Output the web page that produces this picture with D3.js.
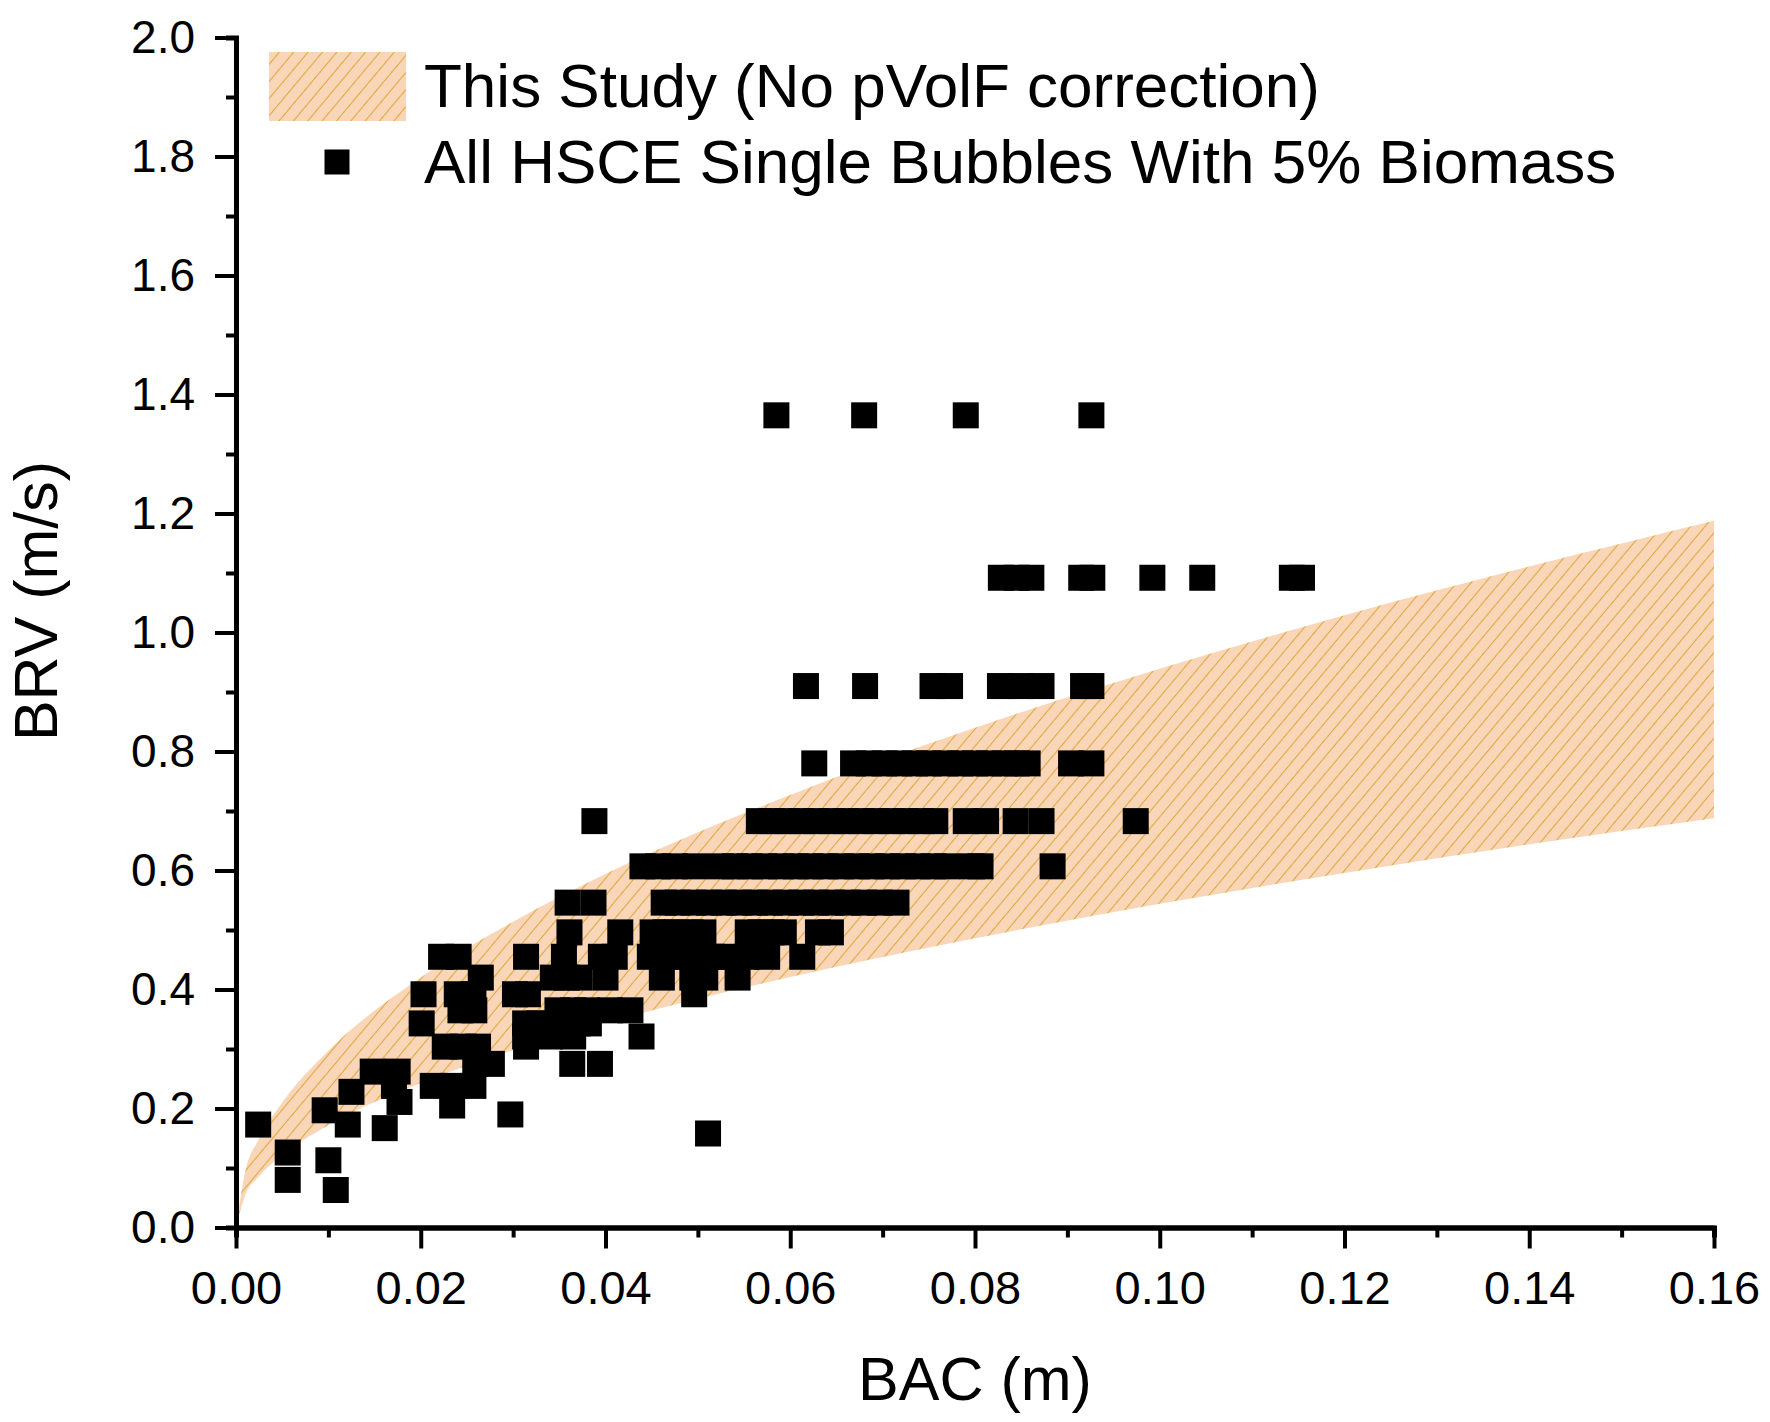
<!DOCTYPE html>
<html>
<head>
<meta charset="utf-8">
<script src="https://cdn.jsdelivr.net/npm/d3@7"></script>
<style>
  body { margin: 0; background: #fff; }
  text { font-family: "Liberation Sans", Arial, sans-serif; fill: #000; }
</style>
</head>
<body>
<div class="canvas"></div>
<script>
// band of this study
const bandBac   = [0, 0.001, 0.0025, 0.005, 0.01, 0.02, 0.03, 0.04, 0.06, 0.08, 0.10, 0.12, 0.14, 0.16];
const bandUpper = [0, 0.094, 0.149, 0.210, 0.297, 0.420, 0.514, 0.594, 0.727, 0.840, 0.939, 1.029, 1.111, 1.188];
const bandLower = [0, 0.054, 0.086, 0.122, 0.172, 0.243, 0.298, 0.344, 0.421, 0.486, 0.544, 0.596, 0.644, 0.688];

// measured bubbles: BRV levels and the BAC values found on each level
const brvLevels = [1.365, 1.092, 0.910, 0.780, 0.683, 0.607, 0.546, 0.496, 0.455, 0.420, 0.392, 0.365,
  0.343, 0.321, 0.304, 0.275, 0.262, 0.238, 0.228, 0.211, 0.205, 0.197, 0.190, 0.173, 0.167, 0.158,
  0.126, 0.113, 0.080, 0.063];
const bacAtLevel = [
  [0.0585, 0.0680, 0.0790, 0.0926],
  [0.0828, 0.0845, 0.0861, 0.0915, 0.0927, 0.0992, 0.1046, 0.1143, 0.1154],
  [0.0617, 0.0681, 0.0754, 0.0773, 0.0827, 0.0849, 0.0872, 0.0917, 0.0926],
  [0.0626, 0.0668, 0.0685, 0.0702, 0.0718, 0.0735, 0.0750, 0.0768, 0.0784, 0.0800, 0.0815, 0.0832, 0.0845, 0.0857, 0.0904, 0.0926],
  [0.0388, 0.0566, 0.0580, 0.0596, 0.0612, 0.0628, 0.0645, 0.0660, 0.0677, 0.0693, 0.0710, 0.0725, 0.0742, 0.0757, 0.0790, 0.0812, 0.0844, 0.0872, 0.0974],
  [0.0440, 0.0457, 0.0475, 0.0497, 0.0525, 0.0540, 0.0556, 0.0572, 0.0590, 0.0606, 0.0622, 0.0638, 0.0655, 0.0672, 0.0688, 0.0705, 0.0722, 0.0738, 0.0755, 0.0770, 0.0797, 0.0806, 0.0884],
  [0.0359, 0.0387, 0.0463, 0.0478, 0.0495, 0.0512, 0.0528, 0.0545, 0.0562, 0.0578, 0.0595, 0.0612, 0.0628, 0.0645, 0.0662, 0.0680, 0.0697, 0.0715],
  [0.0361, 0.0416, 0.0451, 0.0465, 0.0477, 0.0492, 0.0506, 0.0554, 0.0568, 0.0580, 0.0593, 0.0630, 0.0644],
  [0.0222, 0.0241, 0.0314, 0.0355, 0.0395, 0.0410, 0.0448, 0.0462, 0.0475, 0.0488, 0.0502, 0.0515, 0.0527, 0.0553, 0.0575, 0.0613],
  [0.0265, 0.0343, 0.0358, 0.0372, 0.0400, 0.0461, 0.0494, 0.0508, 0.0543],
  [0.0203, 0.0239, 0.0257, 0.0302, 0.0316, 0.0496],
  [0.0243, 0.0258, 0.0348, 0.0365, 0.0380, 0.0405, 0.0427],
  [0.0201, 0.0313, 0.0328, 0.0342, 0.0356, 0.0370, 0.0382],
  [0.0313, 0.0340, 0.0365, 0.0439],
  [0.0226, 0.0245, 0.0262, 0.0314],
  [0.0259, 0.0277, 0.0364, 0.0394],
  [0.0148, 0.0175],
  [0.0171, 0.0213, 0.0235, 0.0257],
  [0.0125],
  [0.0177],
  [0.0234],
  [0.0096],
  [0.0297],
  [0.0024, 0.0121],
  [0.0161],
  [0.0511],
  [0.0056],
  [0.0100],
  [0.0056],
  [0.0108]
];

const xTicks = [0, 0.02, 0.04, 0.06, 0.08, 0.10, 0.12, 0.14, 0.16];
const yTicks = [0, 0.2, 0.4, 0.6, 0.8, 1.0, 1.2, 1.4, 1.6, 1.8, 2.0];
const legendLabels = ['This Study (No pVolF correction)', 'All HSCE Single Bubbles With 5% Biomass'];

const dims = { width: 1770, height: 1422, left: 236, right: 1714, top: 37.5, bottom: 1227.5 };
const markerSize = 26;

const svg = d3.select('.canvas')
  .append('svg')
  .attr('width', dims.width)
  .attr('height', dims.height);

svg.append('rect').attr('width', dims.width).attr('height', dims.height).attr('fill', '#fff');

const x = d3.scaleLinear().domain([0, 0.16]).range([dims.left, dims.right]);
const y = d3.scaleLinear().domain([0, 2.0]).range([dims.bottom, dims.top]);

// hatch pattern for the band
const pattern = svg.append('defs').append('pattern')
  .attr('id', 'hatch')
  .attr('patternUnits', 'userSpaceOnUse')
  .attr('width', 11).attr('height', 11)
  .attr('patternTransform', 'rotate(40)');
pattern.append('rect').attr('width', 11).attr('height', 11).attr('fill', '#f9d6b8');
pattern.append('line')
  .attr('x1', 5.5).attr('y1', 0).attr('x2', 5.5).attr('y2', 11)
  .attr('stroke', '#e2a840').attr('stroke-width', 1.1);

const bandData = bandBac.map((b, i) => ({ b, hi: bandUpper[i], lo: bandLower[i] }));
const area = d3.area()
  .curve(d3.curveMonotoneX)
  .x(d => x(d.b))
  .y0(d => y(d.lo))
  .y1(d => y(d.hi));

svg.append('path')
  .datum(bandData)
  .attr('d', area)
  .attr('fill', 'url(#hatch)');

// scatter squares
const points = [];
brvLevels.forEach((v, i) => bacAtLevel[i].forEach(b => points.push({ b, v })));

svg.append('g').selectAll('rect')
  .data(points)
  .enter().append('rect')
  .attr('x', d => x(d.b) - markerSize / 2)
  .attr('y', d => y(d.v) - markerSize / 2)
  .attr('width', markerSize)
  .attr('height', markerSize)
  .attr('fill', '#000');

// axes
const styleAxis = (g, fontSize) => {
  g.select('.domain').attr('stroke', '#000').attr('stroke-width', 5);
  g.selectAll('.tick line').attr('stroke', '#000').attr('stroke-width', 4);
  g.selectAll('text').attr('font-size', fontSize).attr('fill', '#000')
    .style('font-family', '"Liberation Sans", Arial, sans-serif');
};

const xMinor = svg.append('g')
  .attr('transform', `translate(0, ${dims.bottom})`)
  .call(d3.axisBottom(x).tickValues(d3.range(1, 16, 2).map(k => k / 100)).tickSize(10).tickFormat(''));
styleAxis(xMinor, 0);

const xAxis = svg.append('g')
  .attr('transform', `translate(0, ${dims.bottom})`)
  .call(d3.axisBottom(x).tickValues(xTicks).tickSize(21).tickSizeOuter(0).tickPadding(22).tickFormat(d3.format('.2f')));
styleAxis(xAxis, 47);

const yMinor = svg.append('g')
  .attr('transform', `translate(${dims.left}, 0)`)
  .call(d3.axisLeft(y).tickValues(d3.range(1, 20, 2).map(k => k / 10)).tickSize(10).tickFormat(''));
styleAxis(yMinor, 0);

const yAxis = svg.append('g')
  .attr('transform', `translate(${dims.left}, 0)`)
  .call(d3.axisLeft(y).tickValues(yTicks).tickSize(21).tickSizeOuter(0).tickPadding(20).tickFormat(d3.format('.1f')));
styleAxis(yAxis, 46);

// axis titles
svg.append('text')
  .attr('x', (dims.left + dims.right) / 2)
  .attr('y', 1400)
  .attr('text-anchor', 'middle')
  .attr('font-size', 61)
  .text('BAC (m)');

svg.append('text')
  .attr('transform', 'translate(57, 601) rotate(-90)')
  .attr('text-anchor', 'middle')
  .attr('font-size', 61)
  .text('BRV (m/s)');

// legend
const legend = svg.append('g');
legend.append('rect')
  .attr('x', 269).attr('y', 52)
  .attr('width', 137).attr('height', 69)
  .attr('fill', 'url(#hatch)');
legend.append('rect')
  .attr('x', 337 - 12.5).attr('y', 162 - 12.5)
  .attr('width', 25).attr('height', 25)
  .attr('fill', '#000');
legend.selectAll('text.leg')
  .data(legendLabels)
  .enter().append('text')
  .attr('class', 'leg')
  .attr('x', 424)
  .attr('y', (d, i) => 107 + i * 76)
  .attr('font-size', 62)
  .text(d => d);
</script>
</body>
</html>
